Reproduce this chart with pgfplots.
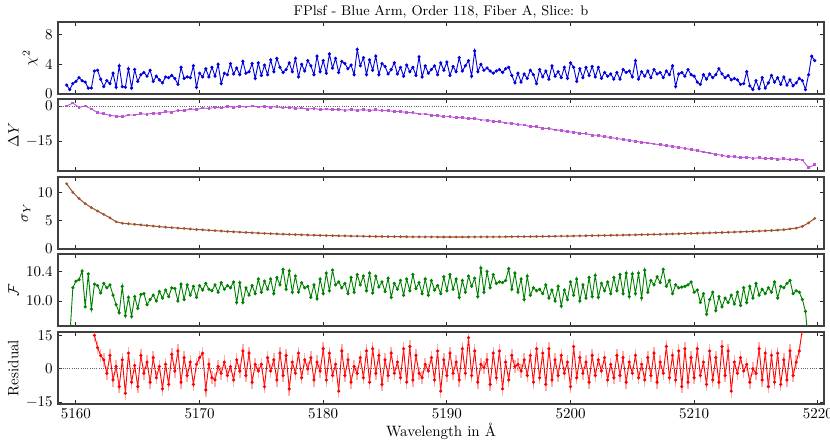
\documentclass[border=0pt]{standalone}
\usepackage{fontspec}
\usepackage{pgfplots}
\pgfplotsset{compat=1.18}
\usepackage{pgfplotstable}
\definecolor{cchi}{RGB}{0,0,220}
\definecolor{cdy}{RGB}{186,85,211}
\definecolor{csig}{RGB}{160,82,45}
\definecolor{cf}{RGB}{0,128,0}
\definecolor{cres}{RGB}{255,0,0}
\pgfplotstableread{
x chi F R
5159.25 1.2 nan nan
5159.50 0.6 9.50 nan
5159.75 1.4 10.18 nan
5160.00 1.7 10.27 nan
5160.25 2.2 10.29 nan
5160.50 1.8 10.41 nan
5160.75 1.6 9.92 nan
5161.00 0.8 10.37 nan
5161.25 0.8 9.89 nan
5161.50 3.1 10.23 15.0
5161.75 3.2 10.21 9.5
5162.00 2.0 10.11 6.0
5162.25 1.0 10.24 4.0
5162.50 1.8 10.18 -2.0
5162.75 1.4 10.22 6.0
5163.00 2.8 10.08 -5.0
5163.25 0.9 9.95 1.0
5163.50 3.8 9.84 -8.0
5163.75 1.0 10.20 4.0
5164.00 0.9 9.80 -11.0
5164.25 3.4 10.05 7.0
5164.50 0.8 9.79 -6.0
5164.75 3.3 10.06 1.5
5165.00 1.7 9.90 -8.0
5165.25 2.6 10.09 6.0
5165.50 2.9 10.10 -2.0
5165.75 2.4 9.95 3.0
5166.00 3.2 10.02 -6.0
5166.25 1.7 10.08 5.0
5166.50 2.4 10.00 -4.0
5166.75 1.9 10.13 1.0
5167.00 1.5 10.04 -9.0
5167.25 2.3 10.15 2.0
5167.50 2.2 10.06 -7.0
5167.75 2.5 10.18 6.5
5168.00 2.1 10.17 -1.0
5168.25 1.3 10.00 8.0
5168.50 3.6 10.23 -6.0
5168.75 2.1 10.02 5.0
5169.00 2.3 10.22 -3.0
5169.25 2.2 10.08 3.0
5169.50 3.8 10.20 -7.0
5169.75 0.9 10.05 2.0
5170.00 2.8 10.21 5.0
5170.25 2.3 10.15 7.0
5170.50 3.4 10.24 -9.5
5170.75 2.3 10.16 2.0
5171.00 3.6 10.14 -4.0
5171.25 2.4 10.22 -5.0
5171.50 4.0 10.12 1.0
5171.75 1.4 10.25 -2.0
5172.00 2.8 10.16 3.0
5172.25 2.6 10.21 -3.0
5172.50 4.1 10.18 1.0
5172.75 2.7 10.26 -5.0
5173.00 3.5 9.98 4.0
5173.25 2.6 10.25 -1.0
5173.50 4.4 9.98 8.0
5173.75 2.8 10.18 -3.0
5174.00 3.0 10.08 7.0
5174.25 4.1 10.21 -6.0
5174.50 2.1 10.10 2.0
5174.75 4.2 10.30 -1.0
5175.00 2.5 10.12 2.0
5175.25 3.9 10.27 -8.0
5175.50 2.6 10.16 5.0
5175.75 4.6 10.30 -1.0
5176.00 3.0 10.10 4.0
5176.25 4.8 10.32 -5.0
5176.50 3.6 10.22 7.0
5176.75 2.9 10.43 -3.0
5177.00 3.3 10.16 6.0
5177.25 4.2 10.41 -9.0
5177.50 3.0 10.12 3.0
5177.75 4.8 10.34 -2.0
5178.00 2.3 10.12 7.0
5178.25 4.0 10.25 -4.0
5178.50 3.1 10.18 4.0
5178.75 4.5 10.20 0.0
5179.00 3.8 10.05 5.0
5179.25 2.6 10.22 -5.0
5179.50 5.1 10.03 3.0
5179.75 3.0 10.30 -1.0
5180.00 4.5 10.10 9.0
5180.25 2.8 10.38 -5.0
5180.50 5.4 10.14 7.0
5180.75 3.5 10.42 -3.0
5181.00 4.8 10.22 2.0
5181.25 2.9 10.26 -10.0
5181.50 4.4 10.18 8.0
5181.75 4.1 10.24 -3.0
5182.00 3.4 10.10 4.0
5182.25 3.9 10.32 -6.0
5182.50 2.6 10.12 1.0
5182.75 6.0 10.36 -2.0
5183.00 3.8 10.22 5.0
5183.25 4.9 10.34 -4.0
5183.50 2.6 10.14 8.0
5183.75 4.6 10.38 -6.0
5184.00 3.2 10.11 9.0
5184.25 5.1 10.34 -2.0
5184.50 2.6 10.19 6.0
5184.75 4.1 10.26 -7.0
5185.00 3.7 10.13 4.0
5185.25 2.7 10.31 -3.0
5185.50 3.3 10.05 7.0
5185.75 4.2 10.24 -2.0
5186.00 2.7 10.16 3.0
5186.25 3.6 10.28 -4.0
5186.50 2.4 10.08 9.0
5186.75 3.9 10.30 -6.0
5187.00 3.0 10.14 10.0
5187.25 3.6 10.36 -5.0
5187.50 2.5 10.17 6.0
5187.75 5.0 10.25 -2.0
5188.00 2.3 10.10 -4.0
5188.25 3.8 10.30 2.0
5188.50 2.8 10.08 -1.0
5188.75 3.3 10.28 5.0
5189.00 3.8 10.15 -5.0
5189.25 2.6 10.21 8.0
5189.50 4.2 10.10 -10.0
5189.75 3.2 10.33 4.0
5190.00 4.3 10.14 -3.0
5190.25 2.5 10.36 7.0
5190.50 3.7 10.16 -2.0
5190.75 3.0 10.30 3.0
5191.00 4.9 10.05 -5.0
5191.25 3.1 10.28 9.0
5191.50 3.8 10.12 -2.0
5191.75 4.5 10.34 14.0
5192.00 2.4 10.20 -3.0
5192.25 5.8 10.31 8.0
5192.50 3.0 10.06 -6.0
5192.75 4.0 10.45 2.0
5193.00 3.2 10.12 0.5
5193.25 3.5 10.40 4.0
5193.50 3.1 10.18 -7.0
5193.75 2.8 10.36 7.0
5194.00 3.1 10.24 -4.0
5194.25 3.3 10.26 8.0
5194.50 2.9 10.25 -9.0
5194.75 3.4 10.28 3.0
5195.00 3.6 10.44 -5.0
5195.25 2.5 10.16 6.0
5195.50 1.5 10.38 1.0
5195.75 2.8 10.12 2.0
5196.00 1.6 10.30 -1.0
5196.25 2.7 10.02 4.0
5196.50 2.1 10.34 -3.0
5196.75 3.2 10.08 6.0
5197.00 2.6 10.18 -6.0
5197.25 1.4 10.14 9.0
5197.50 3.3 10.16 -4.0
5197.75 2.3 10.10 7.0
5198.00 3.1 10.22 -7.0
5198.25 2.0 10.04 9.0
5198.50 3.8 10.15 -5.0
5198.75 2.4 10.00 4.0
5199.00 3.0 10.20 -3.0
5199.25 2.2 9.93 6.0
5199.50 3.6 10.15 -2.0
5199.75 2.1 10.02 3.0
5200.00 4.2 10.26 -8.0
5200.25 3.6 10.08 10.0
5200.50 1.7 10.30 -4.0
5200.75 3.4 10.00 5.0
5201.00 2.2 10.22 -2.0
5201.25 3.6 10.04 3.0
5201.50 2.5 10.32 -6.0
5201.75 3.7 10.06 6.0
5202.00 2.3 10.35 -3.0
5202.25 3.6 10.05 4.0
5202.50 2.1 10.24 -1.0
5202.75 2.9 10.14 5.0
5203.00 2.4 10.26 -5.0
5203.25 2.7 10.10 2.0
5203.50 2.0 10.32 -4.0
5203.75 2.9 10.14 6.0
5204.00 2.0 10.36 -3.0
5204.25 3.3 10.10 5.0
5204.50 2.9 10.38 -6.0
5204.75 3.1 10.06 3.0
5205.00 2.3 10.37 -2.0
5205.25 4.5 10.10 6.0
5205.50 2.0 10.38 -4.0
5205.75 3.0 10.04 2.0
5206.00 2.4 10.42 -5.0
5206.25 3.1 10.12 5.0
5206.50 2.2 10.28 -3.0
5206.75 3.3 10.22 7.0
5207.00 2.7 10.33 -6.0
5207.25 2.9 10.25 3.0
5207.50 2.2 10.43 -2.0
5207.75 3.1 10.20 10.0
5208.00 2.6 10.28 -4.0
5208.25 3.8 10.10 6.0
5208.50 1.0 10.22 -5.0
5208.75 2.7 10.18 8.0
5209.00 2.9 10.19 -8.0
5209.25 2.4 10.20 9.0
5209.50 3.3 10.22 -6.0
5209.75 2.6 10.26 5.0
5210.00 2.4 10.12 -4.0
5210.25 1.6 10.15 9.0
5210.50 1.3 9.98 -3.0
5210.75 2.6 10.10 3.0
5211.00 2.0 9.82 -7.0
5211.25 2.7 10.02 8.0
5211.50 2.2 10.12 -5.0
5211.75 2.6 9.87 5.0
5212.00 3.4 10.06 -6.0
5212.25 2.7 9.92 10.0
5212.50 2.2 10.04 -3.0
5212.75 2.5 9.98 8.0
5213.00 1.9 10.08 -10.0
5213.25 2.1 9.96 3.0
5213.50 1.9 10.12 -2.0
5213.75 1.3 9.94 5.0
5214.00 1.4 10.18 -1.0
5214.25 3.0 9.98 2.0
5214.50 1.1 10.20 -6.0
5214.75 0.6 10.04 0.0
5215.00 1.8 10.24 -2.0
5215.25 0.7 10.08 9.0
5215.50 2.2 10.16 -5.0
5215.75 0.8 10.10 7.0
5216.00 1.5 10.18 -8.0
5216.25 2.5 10.12 6.0
5216.50 1.6 10.26 -6.0
5216.75 2.2 10.04 7.0
5217.00 1.3 10.20 -7.0
5217.25 2.3 10.18 4.0
5217.50 1.2 10.24 -5.0
5217.75 1.9 10.28 8.0
5218.00 1.1 10.10 -3.0
5218.25 1.5 10.14 3.0
5218.50 2.1 10.12 8.0
5218.75 1.8 10.02 18.0
5219.00 0.6 9.86 nan
5219.25 2.6 9.40 nan
5219.50 5.1 nan nan
5219.75 4.5 nan nan
}\dense
\pgfplotstableread{
x dy sig
5159.25 0.0 11.5
5159.75 1.3 10.0
5160.25 -0.6 8.9
5160.75 0.0 8.0
5161.25 -1.2 7.3
5161.75 -2.8 6.7
5162.25 -3.3 6.1
5162.75 -4.0 5.5
5163.25 -4.3 4.8
5163.75 -4.6 4.55
5164.25 -3.8 4.45
5164.75 -3.8 4.35
5165.25 -3.3 4.25
5165.75 -3.5 4.15
5166.25 -3.0 4.05
5166.75 -3.1 3.95
5167.25 -2.4 3.85
5167.75 -2.6 3.77
5168.25 -1.8 3.69
5168.75 -2.0 3.61
5169.25 -1.2 3.53
5169.75 -1.5 3.45
5170.25 -0.8 3.38
5170.75 -1.1 3.31
5171.25 -0.5 3.24
5171.75 -0.8 3.17
5172.25 -0.2 3.10
5172.75 -0.5 3.04
5173.25 -0.1 2.98
5173.75 -0.4 2.92
5174.25 0.0 2.86
5174.75 -0.4 2.81
5175.25 -0.1 2.76
5175.75 -0.5 2.71
5176.25 -0.3 2.66
5176.75 -0.8 2.62
5177.25 -0.5 2.58
5177.75 -1.0 2.54
5178.25 -0.8 2.50
5178.75 -1.3 2.47
5179.25 -1.0 2.44
5179.75 -1.5 2.41
5180.25 -1.2 2.38
5180.75 -1.6 2.35
5181.25 -1.4 2.33
5181.75 -1.8 2.31
5182.25 -1.5 2.29
5182.75 -1.8 2.27
5183.25 -1.5 2.25
5183.75 -1.9 2.23
5184.25 -1.6 2.21
5184.75 -2.0 2.20
5185.25 -1.9 2.19
5185.75 -2.4 2.18
5186.25 -2.3 2.17
5186.75 -2.8 2.16
5187.25 -2.8 2.15
5187.75 -3.4 2.14
5188.25 -3.4 2.13
5188.75 -4.0 2.13
5189.25 -4.0 2.12
5189.75 -4.6 2.12
5190.25 -4.5 2.12
5190.75 -5.0 2.12
5191.25 -4.9 2.12
5191.75 -5.4 2.12
5192.25 -5.3 2.13
5192.75 -5.9 2.13
5193.25 -6.0 2.14
5193.75 -6.6 2.14
5194.25 -6.6 2.15
5194.75 -7.2 2.16
5195.25 -7.3 2.17
5195.75 -8.0 2.18
5196.25 -8.1 2.19
5196.75 -8.8 2.20
5197.25 -8.8 2.21
5197.75 -9.5 2.22
5198.25 -9.5 2.24
5198.75 -10.2 2.25
5199.25 -10.3 2.27
5199.75 -11.0 2.28
5200.25 -11.1 2.30
5200.75 -11.7 2.32
5201.25 -11.8 2.34
5201.75 -12.4 2.36
5202.25 -12.5 2.38
5202.75 -13.1 2.40
5203.25 -13.4 2.42
5203.75 -13.9 2.44
5204.25 -14.2 2.46
5204.75 -14.7 2.48
5205.25 -15.0 2.50
5205.75 -15.5 2.53
5206.25 -15.7 2.55
5206.75 -16.2 2.58
5207.25 -16.4 2.60
5207.75 -16.9 2.63
5208.25 -17.2 2.66
5208.75 -17.7 2.69
5209.25 -18.0 2.72
5209.75 -18.6 2.75
5210.25 -18.9 2.78
5210.75 -19.6 2.81
5211.25 -20.0 2.84
5211.75 -20.6 2.88
5212.25 -21.0 2.91
5212.75 -21.6 2.95
5213.25 -21.6 2.99
5213.75 -22.0 3.03
5214.25 -21.8 3.07
5214.75 -22.3 3.11
5215.25 -22.0 3.16
5215.75 -22.5 3.21
5216.25 -22.2 3.27
5216.75 -22.7 3.33
5217.25 -22.5 3.40
5217.75 -22.9 3.55
5218.25 -22.7 3.68
5218.75 -23.0 4.00
5219.25 -26.3 4.60
5219.75 -25.0 5.40
}\sparse
\pgfplotsset{
  panel/.style={
    scale only axis, width=510.67pt, height=48pt,
    anchor=north west,
    xmin=5158.55, xmax=5220.5,
    xtick={5160,5170,5180,5190,5200,5210,5220},
    tick align=inside, tick pos=both,
    major tick length=2.7pt,
    axis line style={black!75, line width=0.9pt},
    every tick/.style={black!85, line width=0.6pt},
    /pgf/number format/1000 sep={},
    scaled ticks=false,
    ylabel style={yshift=-2pt},
  },
  hidex/.style={xticklabels={}},
  ptline/.style={line width=0.6pt, mark=*, mark size=0.75pt},
}
\begin{document}
\begin{tikzpicture}
\useasboundingbox (-38.67pt,14.67pt) rectangle (514.67pt,-280.67pt);
% chi^2
\begin{axis}[panel, hidex, at={(0pt,0pt)},
  ymin=0, ymax=9.7, ytick={0,4,8}, ylabel={$\chi^2$},
  title={\fontsize{9.3}{11}\selectfont FPlsf - Blue Arm, Order 118, Fiber A, Slice: b},
  title style={yshift=-7pt}]
\addplot[cchi, ptline] table[x=x, y=chi] {\dense};
\end{axis}
% Delta Y
\begin{axis}[panel, hidex, at={(0pt,-51.33pt)},
  ymin=-27.7, ymax=3, ytick={-15,0}, ylabel={$\Delta Y$}]
\addplot[black!60, densely dotted, line width=0.5pt] coordinates {(5158.55,0) (5220.5,0)};
\addplot[cdy, line width=0.6pt, mark=square*, mark size=0.6pt] table[x=x, y=dy] {\sparse};
\end{axis}
% sigma Y
\begin{axis}[panel, hidex, at={(0pt,-103.33pt)},
  ymin=0, ymax=12.7, ytick={0,5,10}, ylabel={$\sigma_Y$}]
\addplot[csig, line width=0.7pt, mark=*, mark size=0.55pt] table[x=x, y=sig] {\sparse};
\end{axis}
% F
\begin{axis}[panel, hidex, at={(0pt,-154.67pt)},
  ymin=9.66, ymax=10.64, ytick={10.0,10.4}, ylabel={$\mathcal{F}$},
  yticklabel style={/pgf/number format/.cd, fixed, fixed zerofill, precision=1}]
\addplot[cf, ptline] table[x=x, y=F] {\dense};
\end{axis}
% Residual
\begin{axis}[panel, at={(0pt,-206.67pt)},
  ymin=-15.8, ymax=16.5, ytick={-15,0,15}, ylabel={Residual},
  xlabel={Wavelength in \AA}, xlabel style={yshift=4pt}]
\addplot[black!60, densely dotted, line width=0.5pt] coordinates {(5158.55,0) (5220.5,0)};
\addplot[cres, ptline,
  error bars/.cd, y dir=both, y fixed=3, error mark=none,
  error bar style={cres!70, line width=1.0pt, opacity=0.45}]
  table[x=x, y=R] {\dense};
\end{axis}
\end{tikzpicture}
\end{document}
